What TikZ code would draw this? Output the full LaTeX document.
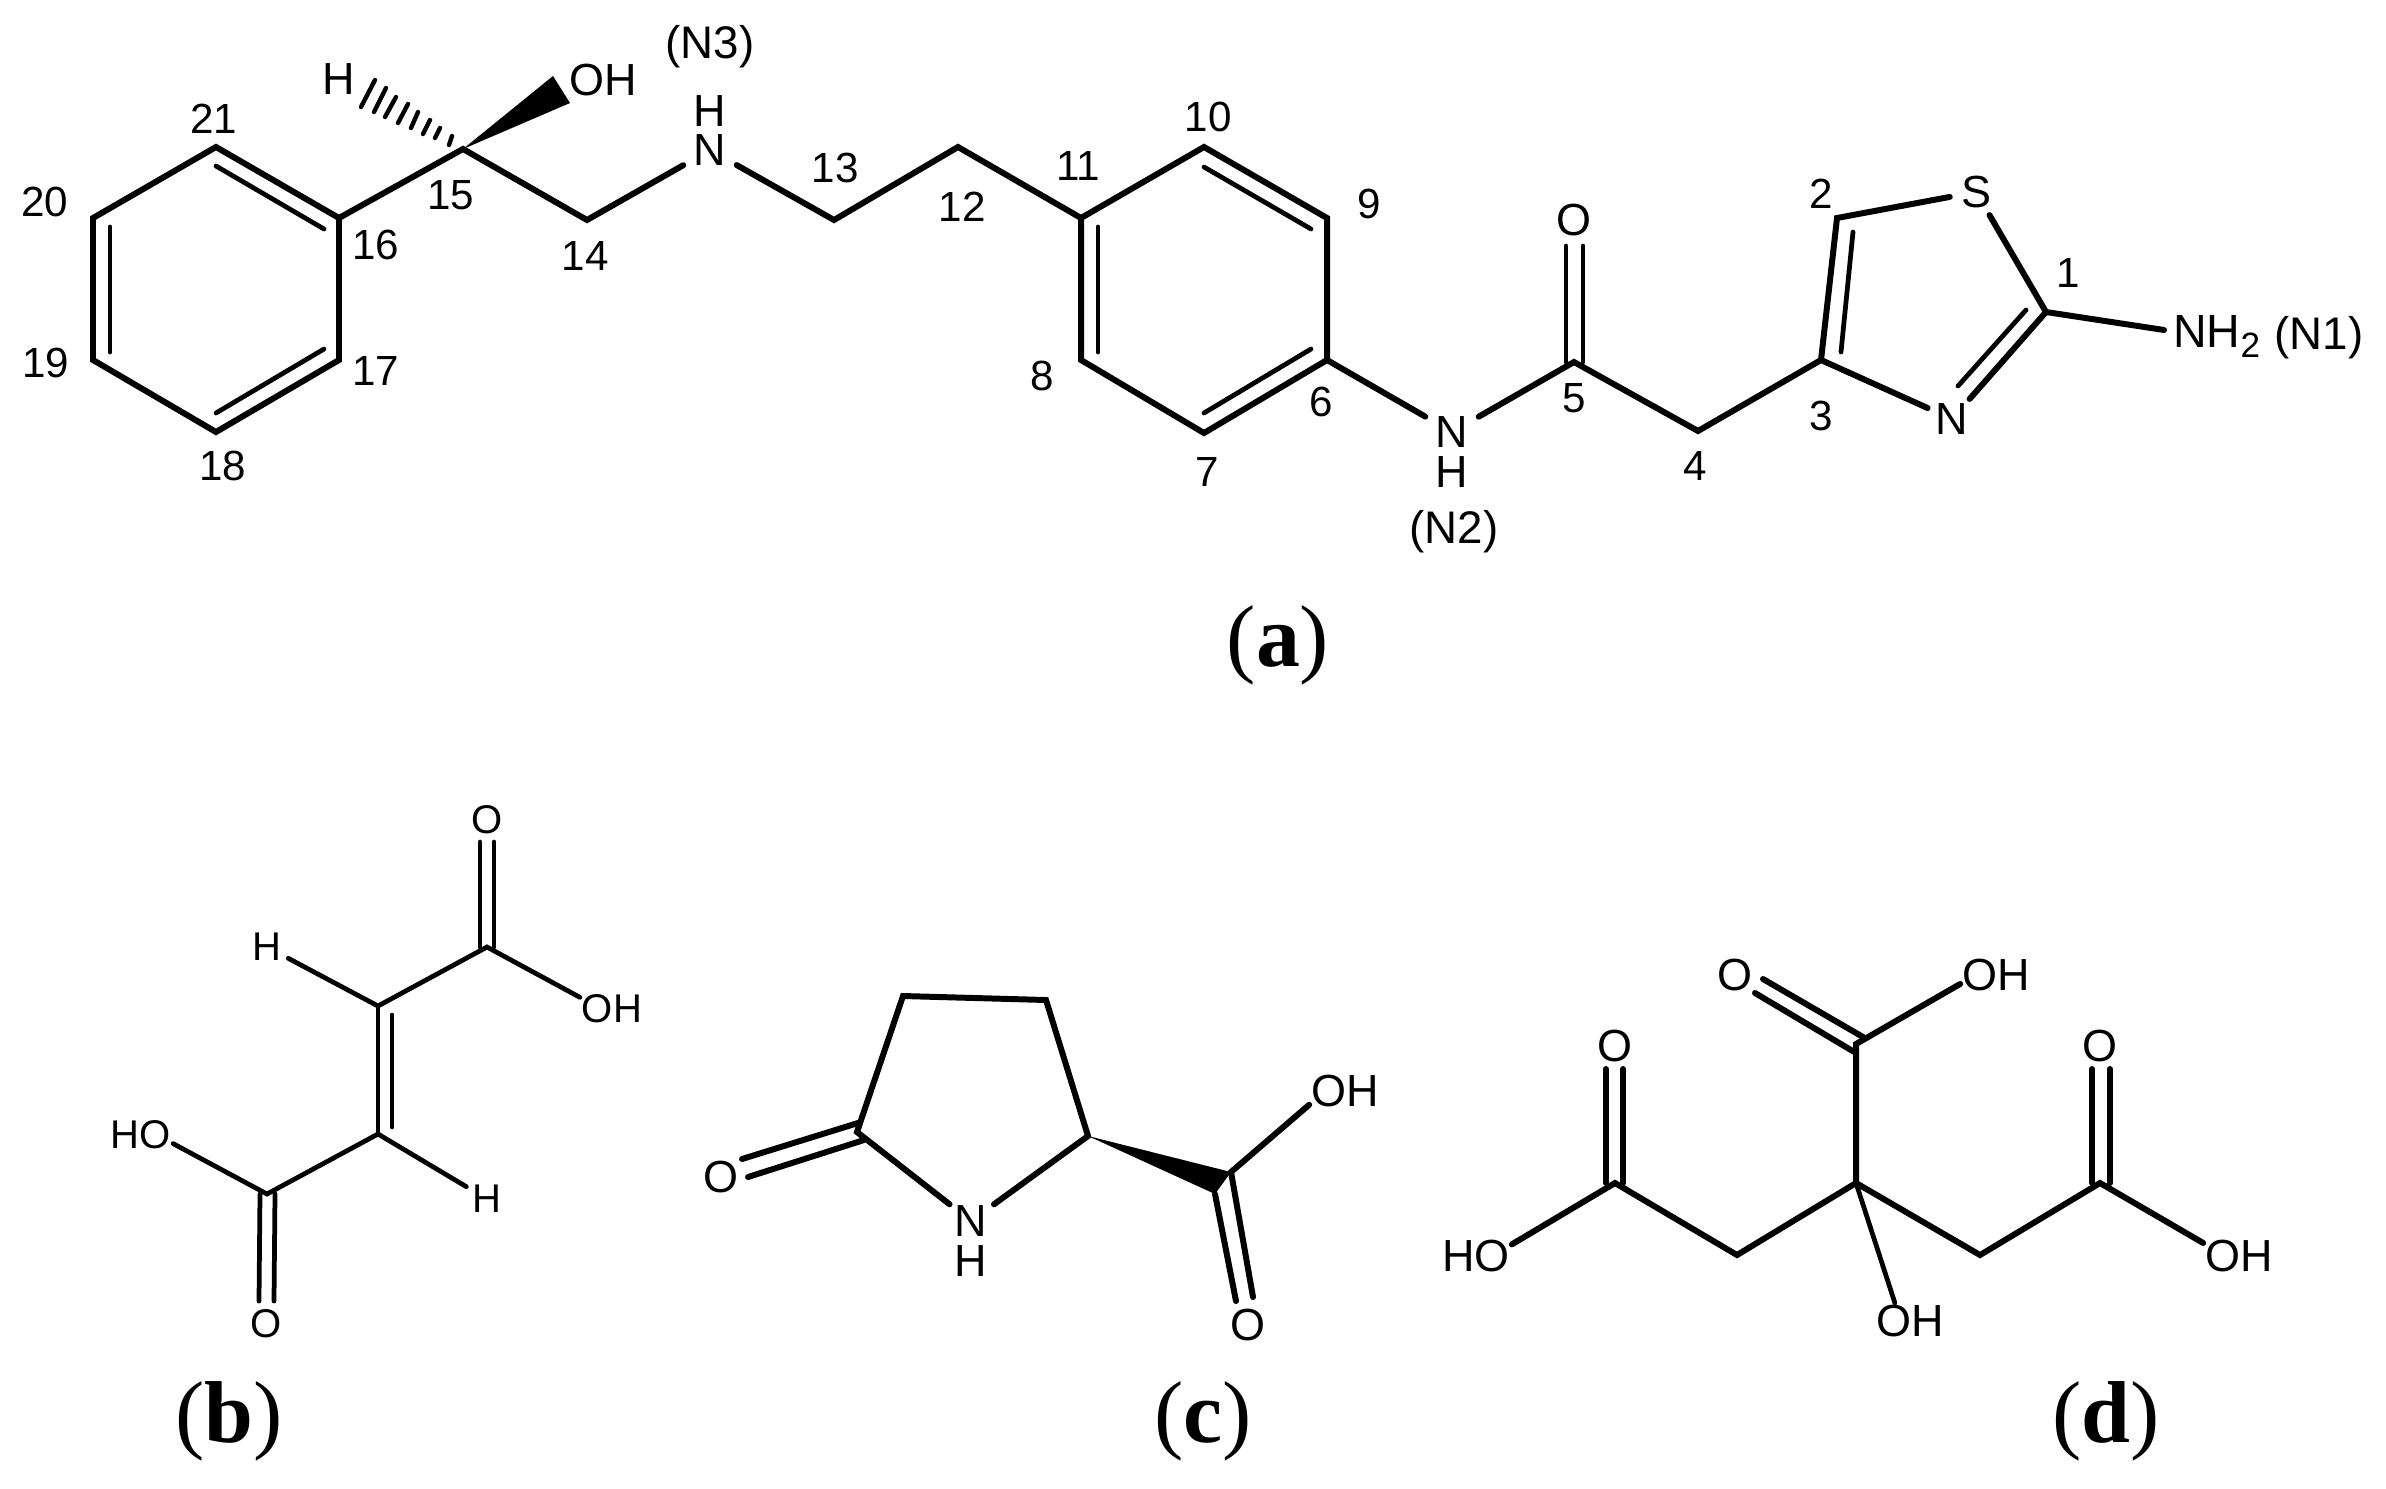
\documentclass[tikz,border=0pt]{standalone}
\usepackage{fontspec}
\setmainfont{Liberation Sans}
\newfontfamily\capfont{Liberation Serif}

\begin{document}
\begin{tikzpicture}[
            x = 0.02cm, y = -0.02cm,
            bond/.style = {line width = 3.4pt, line cap = round, line join = miter},
            bondin/.style = {line width = 2.7pt, line cap = round},
            bondb/.style = {line width = 2.7pt, line cap = round, line join = miter},
            atom/.style = {circle, inner sep = 0pt, minimum size = 30pt, font = \fontsize{25.6}{26}\selectfont},
            atomn/.style = {inner ysep = 0.5pt, inner xsep = 0pt, minimum width = 30pt, font = \fontsize{25.6}{26}\selectfont},
            atomb/.style = {circle, inner sep = 0pt, minimum size = 27pt, font = \fontsize{22.8}{23}\selectfont},
            group/.style = {inner sep = 1pt, font = \fontsize{25.6}{26}\selectfont},
            groupb/.style = {inner sep = 1pt, font = \fontsize{22.8}{23}\selectfont},
            num/.style = {inner sep = 0pt, font = \fontsize{24}{25}\selectfont},
            tag/.style = {inner sep = 0pt, font = \fontsize{26}{27}\selectfont},
            panel/.style = {inner sep = 0pt, font = \capfont\fontsize{50}{52}\selectfont}
        ]
        \useasboundingbox (0,0) rectangle (2386,1488);

        % main molecule
        \coordinate (c21) at (216,147);
        \coordinate (c16) at (339,218);
        \coordinate (c17) at (339,360);
        \coordinate (c18) at (216,432);
        \coordinate (c19) at (93,360);
        \coordinate (c20) at (93,218);
        \coordinate (c15) at (463,149);
        \coordinate (c14) at (587,220);
        \coordinate (c13) at (834,220);
        \coordinate (c12) at (958,147);
        \coordinate (c11) at (1081,218);
        \coordinate (c10) at (1204,147);
        \coordinate (c9) at (1327,218);
        \coordinate (c6) at (1327,360);
        \coordinate (c7) at (1204,433);
        \coordinate (c8) at (1081,360);
        \coordinate (c5) at (1574,362);
        \coordinate (c4) at (1698,431);
        \coordinate (c3) at (1821,360);
        \coordinate (c2) at (1837,218);
        \coordinate (c1) at (2046,312);
        \coordinate (wedgea) at (553,76);
        \coordinate (wedgeb) at (570,103);

        \node[atomn] (n3) at (710,150) {N};
        \node[group] (h3) at (710,111) {H};
        \node[group] (ha) at (339,79) {H};
        \node[group] (oha) at (603,80) {OH};
        \node[atomn] (n2) at (1452,432) {N};
        \node[group] (h2) at (1452,472) {H};
        \node[atom] (o5) at (1574,220) {O};
        \node[atom] (s1) at (1976,192) {S};
        \node[atom] (n1) at (1952,419) {N};
        \node[group, inner sep = 0pt, anchor = base west, font = \fontsize{26.5}{27}\selectfont] (nh2) at (2173,347) {NH\raisebox{-5.7pt}{\fontsize{20}{20}\selectfont 2}};

        \node[tag] (tagn3) at (710,47) {(N3)};
        \node[tag] (tagn2) at (1454,532) {(N2)};
        \node[tag] (tagn1) at (2319,338) {(N1)};

        \node[num] (lab1) at (2068,273) {1};
        \node[num] (lab2) at (1821,194) {2};
        \node[num] (lab3) at (1821,416) {3};
        \node[num] (lab4) at (1695,466) {4};
        \node[num] (lab5) at (1574,398) {5};
        \node[num] (lab6) at (1321,402) {6};
        \node[num] (lab7) at (1207,472) {7};
        \node[num] (lab8) at (1042,376) {8};
        \node[num] (lab9) at (1369,204) {9};
        \node[num] (lab10) at (1208,117) {10};
        \node[num] (lab11) at (1078,166) {11};
        \node[num] (lab12) at (962,207) {12};
        \node[num] (lab13) at (835,168) {13};
        \node[num] (lab14) at (585,256) {14};
        \node[num] (lab15) at (451,195) {15};
        \node[num] (lab16) at (376,245) {16};
        \node[num] (lab17) at (376,371) {17};
        \node[num] (lab18) at (223,466) {18};
        \node[num] (lab19) at (46,363) {19};
        \node[num] (lab20) at (45,202) {20};
        \node[num] (lab21) at (214,119) {21};

        \draw[bond] (c21) -- (c16) -- (c17) -- (c18) -- (c19) -- (c20) -- cycle;
        \draw[bondin] ([shift={(0,19)}]c21) -- ([shift={(-15,11)}]c16);
        \draw[bondin] ([shift={(17,9)}]c20) -- ([shift={(17,-8)}]c19);
        \draw[bondin] ([shift={(-15,-11)}]c17) -- ([shift={(0,-19)}]c18);
        \draw[bond] (c16) -- (c15) -- (c14) -- (n3) -- (c13) -- (c12) -- (c11);
        \fill (c15) -- (wedgea) -- (wedgeb) -- cycle;
        \draw[line width = 2.5pt, line cap = round] (375,80) -- (361,107) (386,88) -- (374,112) (396,97) -- (385,117)
            (408,104) -- (398,123) (418,112) -- (411,128) (430,120) -- (423,134) (440,128) -- (435,138) (452,136) -- (449,145);

        \draw[bond] (c11) -- (c10) -- (c9) -- (c6) -- (c7) -- (c8) -- cycle;
        \draw[bondin] ([shift={(0,20)}]c10) -- ([shift={(-16,11)}]c9);
        \draw[bondin] ([shift={(17,9)}]c11) -- ([shift={(17,-8)}]c8);
        \draw[bondin] ([shift={(-16,-11)}]c6) -- ([shift={(0,-20)}]c7);
        \draw[bond] (c6) -- (n2) -- (c5) -- (c4) -- (c3);
        \draw[bondin] ([shift={(-8,0)}]c5) -- ([shift={(-8,26)}]o5.center);
        \draw[bondin] ([shift={(9,0)}]c5) -- ([shift={(9,26)}]o5.center);

        \draw[bond] (c3) -- (c2) -- (s1) -- (c1) -- (n1) -- (c3);
        \draw[bondin] ([shift={(20,-8)}]c3) -- ([shift={(16,14)}]c2);
        \draw[bondin] ([shift={(-20,-2)}]c1) -- ([shift={(6,-33)}]n1.center);
        \draw[bond] (c1) -- ([shift={(-9,-6)}]nh2.west);

        \node[panel] (panela) at (1278,645) {({\bfseries a})};

        % second molecule
        \coordinate (cb1) at (487,947);
        \coordinate (cb2) at (378,1006);
        \coordinate (cb3) at (378,1134);
        \coordinate (cb4) at (267,1194);

        \node[atomb] (ob1) at (487,820) {O};
        \node[atomb] (ob2) at (266,1324) {O};
        \node[atomb] (hb1) at (267,947) {H};
        \node[atomb] (hb2) at (487,1199) {H};
        \node[groupb] (ohb) at (612,1009) {OH};
        \node[groupb] (hob) at (141,1135) {HO};

        \draw[bondb] (hb1) -- (cb2) -- (cb1) -- (ohb.160);
        \draw[bondb] (hob.-15) -- (cb4) -- (cb3) -- (hb2);
        \draw[bondb] (cb2) -- (cb3);
        \draw[bondb] ([shift={(14,9)}]cb2) -- ([shift={(14,-7)}]cb3);
        \draw[bondb] ([shift={(-7,0)}]cb1) -- ([shift={(-7,22)}]ob1.center);
        \draw[bondb] ([shift={(7,0)}]cb1) -- ([shift={(7,22)}]ob1.center);
        \draw[bondb] ([shift={(-7,0)}]cb4) -- ([shift={(-7,-23)}]ob2.center);
        \draw[bondb] ([shift={(8,0)}]cb4) -- ([shift={(8,-23)}]ob2.center);

        \node[panel] (panelb) at (229,1421) {({\bfseries b})};

        % third molecule
        \coordinate (cc1) at (857,1132);
        \coordinate (cc2) at (903,996);
        \coordinate (cc3) at (1046,1000);
        \coordinate (cc4) at (1088,1136);
        \coordinate (cc5) at (1231,1172);
        \coordinate (cc6) at (1215,1194);

        \node[atomn] (nc) at (971,1221) {N};
        \node[group] (hc) at (971,1261) {H};
        \node[atom] (oc1) at (721,1177) {O};
        \node[atom] (oc2) at (1248,1325) {O};
        \node[group] (ohc) at (1345,1091) {OH};

        \draw[bond] (nc) -- (cc1) -- (cc2) -- (cc3) -- (cc4) -- (nc);
        \fill (cc4) -- (cc5) -- (cc6) -- cycle;
        \draw[bond] (cc5) -- (ohc.201);
        \draw[bond] (cc5) -- ([shift={(5,-28)}]oc2.center);
        \draw[bond] (cc6) -- ([shift={(-12,-24)}]oc2.center);
        \draw[bond] ([shift={(1,-9)}]cc1) -- ([shift={(21,-18)}]oc1.center);
        \draw[bond] ([shift={(7,8)}]cc1) -- ([shift={(27,0)}]oc1.center);

        \node[panel] (panelc) at (1203,1421) {({\bfseries c})};

        % fourth molecule
        \coordinate (cd1) at (1615,1183);
        \coordinate (cd2) at (1737,1255);
        \coordinate (cd3) at (1856,1183);
        \coordinate (cd4) at (1980,1255);
        \coordinate (cd5) at (2100,1183);
        \coordinate (cd6) at (1856,1044);

        \node[atom] (od1) at (1615,1046) {O};
        \node[atom] (od2) at (2100,1046) {O};
        \node[atom] (od3) at (1735,975) {O};
        \node[group] (hod1) at (1476,1256) {HO};
        \node[group] (ohd1) at (2239,1256) {OH};
        \node[group] (ohd2) at (1996,975) {OH};
        \node[group] (ohd3) at (1910,1321) {OH};

        \draw[bond] (hod1.18) -- (cd1) -- (cd2) -- (cd3) -- (cd4) -- (cd5) -- (ohd1.160);
        \draw[bond] (cd3) -- (cd6) -- (ohd2.194);
        \draw[bondb] (cd3) -- (ohd3.130);
        \draw[bond] ([shift={(-9,0)}]cd1) -- ([shift={(-9,23)}]od1.center);
        \draw[bond] ([shift={(8,0)}]cd1) -- ([shift={(8,23)}]od1.center);
        \draw[bond] ([shift={(-8,0)}]cd5) -- ([shift={(-8,23)}]od2.center);
        \draw[bond] ([shift={(10,0)}]cd5) -- ([shift={(10,23)}]od2.center);
        \draw[bond] ([shift={(7,-7)}]cd6) -- ([shift={(28,4)}]od3.center);
        \draw[bond] ([shift={(0,9)}]cd6) -- ([shift={(20,18)}]od3.center);

        \node[panel] (paneld) at (2106,1421) {({\bfseries d})};
    \end{tikzpicture}
\end{document}
